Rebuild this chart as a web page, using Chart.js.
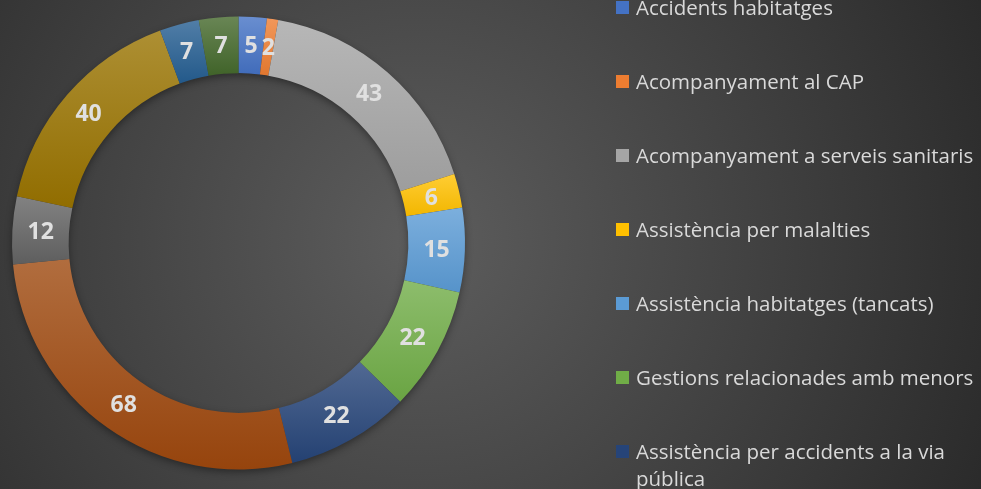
<!DOCTYPE html>
<html>
<head>
<meta charset="utf-8">
<script src="https://cdn.jsdelivr.net/npm/chart.js@4.4.0/dist/chart.umd.min.js"></script>
<style>
  html, body { margin: 0; padding: 0; }
  body {
    width: 981px; height: 489px; overflow: hidden; position: relative;
    background: radial-gradient(circle at 420px 240px, #5d5d5d 0px, #252525 680px);
    font-family: 'Open Sans', sans-serif;
  }
  #wrap { position: absolute; left: 0; top: 0; width: 476px; height: 489px; }
  #legend { position: absolute; left: 0; top: 0; width: 981px; height: 489px; }
  .item { position: absolute; left: 616px; width: 365px; color: #d9d9d9; font-size: 20.5px; line-height: 27px; }
  .item .box { position: absolute; left: 0; top: 7px; width: 13px; height: 13px; }
  .item .txt { position: absolute; left: 20px; top: 0; width: 345px; }
</style>
</head>
<body>
<div id="wrap"><canvas id="donut"></canvas></div>
<div id="legend"></div>
<script>
const labels = [
  'Accidents habitatges',
  'Acompanyament al CAP',
  'Acompanyament a serveis sanitaris',
  'Assistència per malalties',
  'Assistència habitatges (tancats)',
  'Gestions relacionades amb menors',
  'Assistència per accidents a la via pública'
];
const values = [5, 2, 43, 6, 15, 22, 22, 68, 12, 40, 7, 7];
const colors = ['#4472C4', '#ED7D31', '#A5A5A5', '#FFC000', '#5B9BD5', '#70AD47',
                '#264478', '#9E480E', '#636363', '#997300', '#255E91', '#43682B'];

function mix(hex, t, to) {
  const n = parseInt(hex.slice(1), 16);
  const c = [n >> 16, (n >> 8) & 255, n & 255].map(v => Math.round(v + (to - v) * t));
  return `rgb(${c[0]},${c[1]},${c[2]})`;
}

// vertical gradient per slice, lighter at the top like the office style
const sliceGradient = {
  id: 'sliceGradient',
  beforeDatasetsDraw(chart) {
    const ctx = chart.ctx;
    const meta = chart.getDatasetMeta(0);
    meta.data.forEach((arc, i) => {
      const { x, y, startAngle, endAngle, innerRadius, outerRadius } = arc.getProps(['x', 'y', 'startAngle', 'endAngle', 'innerRadius', 'outerRadius'], true);
      let minY = Infinity, maxY = -Infinity;
      for (let k = 0; k <= 20; k++) {
        const a = startAngle + (endAngle - startAngle) * k / 20;
        [innerRadius, outerRadius].forEach(r => {
          const py = y + r * Math.sin(a);
          minY = Math.min(minY, py); maxY = Math.max(maxY, py);
        });
      }
      const g = ctx.createLinearGradient(0, minY, 0, maxY);
      g.addColorStop(0, mix(colors[i], 0.2, 255));
      g.addColorStop(1, mix(colors[i], 0.05, 0));
      arc.options.backgroundColor = g;
    });
    // soft shadow under the ring
    const a0 = meta.data[0];
    ctx.save();
    ctx.shadowColor = 'rgba(0,0,0,0.45)';
    ctx.shadowBlur = 9;
    ctx.shadowOffsetY = 3;
    ctx.fillStyle = '#3a3a3a';
    ctx.beginPath();
    ctx.arc(a0.x, a0.y, a0.outerRadius - 1, 0, Math.PI * 2);
    ctx.arc(a0.x, a0.y, a0.innerRadius + 1, Math.PI * 2, 0, true);
    ctx.fill();
    ctx.restore();
  }
};

const sliceLabels = {
  id: 'sliceLabels',
  afterDatasetsDraw(chart) {
    const ctx = chart.ctx;
    ctx.save();
    ctx.font = "bold 23px 'Open Sans'";
    ctx.fillStyle = '#e0e0e0';
    ctx.textAlign = 'center';
    ctx.textBaseline = 'middle';
    chart.getDatasetMeta(0).data.forEach((arc, i) => {
      const p = arc.tooltipPosition(true);
      ctx.fillText(values[i], p.x, p.y + 1);
    });
    ctx.restore();
  }
};

new Chart(document.getElementById('donut'), {
  type: 'doughnut',
  data: { labels: values.map((v, i) => labels[i] || ''), datasets: [{ data: values, backgroundColor: colors, borderWidth: 0 }] },
  options: {
    responsive: true, maintainAspectRatio: false, animation: false, cutout: '75%',
    layout: { padding: { top: 16, bottom: 19, left: 12, right: 11 } },
    plugins: { legend: { display: false }, tooltip: { enabled: false } }
  },
  plugins: [sliceGradient, sliceLabels]
});

const legend = document.getElementById('legend');
labels.forEach((name, i) => {
  const el = document.createElement('div');
  el.className = 'item';
  el.style.top = (7 + 74 * i - 13.5) + 'px';
  el.innerHTML = `<span class="box" style="background:${colors[i]}"></span><span class="txt">${name}</span>`;
  legend.appendChild(el);
});
</script>
</body>
</html>
